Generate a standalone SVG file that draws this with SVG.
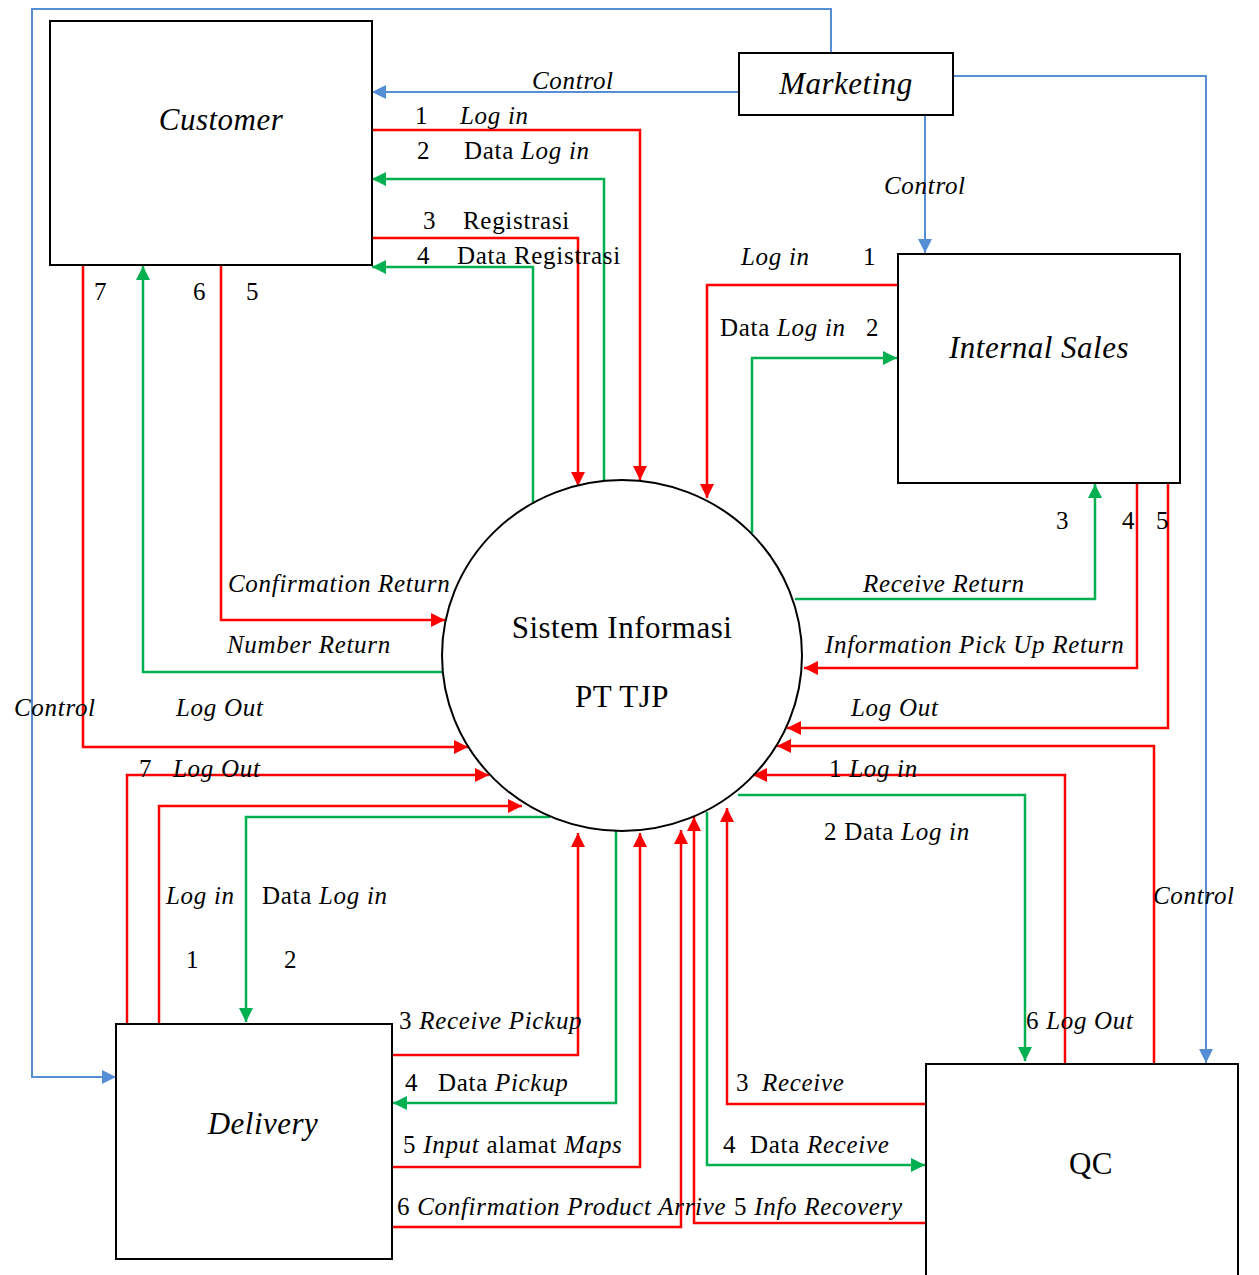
<svg xmlns="http://www.w3.org/2000/svg" width="1259" height="1275" viewBox="0 0 1259 1275">
  <style>
    .box { fill: #ffffff; stroke: #000000; stroke-width: 2; }
    .proc { fill: none; stroke: #000000; stroke-width: 2; }
    .red { fill: none; stroke: #ff0000; stroke-width: 2.5; marker-end: url(#arrRed); }
    .grn { fill: none; stroke: #00b050; stroke-width: 2.5; marker-end: url(#arrGrn); }
    .blu { fill: none; stroke: #558ed5; stroke-width: 2; marker-end: url(#arrBlu); }
    .title { font-family: "Liberation Serif", "Times New Roman", serif; font-size: 31px; letter-spacing: 0.5px; fill: #000; }
    .lbl { font-family: "Liberation Serif", "Times New Roman", serif; font-size: 25px; letter-spacing: 0.7px; fill: #000; }
    .it { font-style: italic; }
  </style>
  <defs>
    <marker id="arrRed" markerUnits="userSpaceOnUse" markerWidth="14" markerHeight="14" refX="14" refY="7" orient="auto">
      <path d="M0,0 L14,7 L0,14 z" fill="#ff0000"/>
    </marker>
    <marker id="arrGrn" markerUnits="userSpaceOnUse" markerWidth="14" markerHeight="14" refX="14" refY="7" orient="auto">
      <path d="M0,0 L14,7 L0,14 z" fill="#00b050"/>
    </marker>
    <marker id="arrBlu" markerUnits="userSpaceOnUse" markerWidth="14" markerHeight="14" refX="14" refY="7" orient="auto">
      <path d="M0,0 L14,7 L0,14 z" fill="#558ed5"/>
    </marker>
  </defs>

  <rect width="1259" height="1275" fill="#ffffff"/>

  <!-- data flows -->
  <g id="connectors">
    <!-- Marketing control lines -->
    <polyline class="blu" points="831,53 831,9 32,9 32,1077 116,1077"/>
    <polyline class="blu" points="739,92 372,92"/>
    <polyline class="blu" points="925,115 925,253"/>
    <polyline class="blu" points="953,76 1206,76 1206,1063"/>

    <!-- Customer -->
    <polyline class="red" points="372,130 640,130 640,480"/>
    <polyline class="grn" points="604,482 604,179 372,179"/>
    <polyline class="red" points="372,238 578,238 578,486"/>
    <polyline class="grn" points="533,504 533,267 372,267"/>
    <polyline class="red" points="221,265 221,620 445,620"/>
    <polyline class="grn" points="442,672 143,672 143,266"/>
    <polyline class="red" points="83,265 83,747 468,747"/>

    <!-- Internal Sales -->
    <polyline class="red" points="898,285 707,285 707,498"/>
    <polyline class="grn" points="752,533 752,358 897,358"/>
    <polyline class="grn" points="795,599 1095,599 1095,484"/>
    <polyline class="red" points="1137,483 1137,668 804,668"/>
    <polyline class="red" points="1168,483 1168,728 787,728"/>

    <!-- QC -->
    <polyline class="red" points="1154,1064 1154,746 777,746"/>
    <polyline class="red" points="1065,1064 1065,775 753,775"/>
    <polyline class="grn" points="738,795 1025,795 1025,1061"/>
    <polyline class="red" points="926,1104 727,1104 727,808"/>
    <polyline class="grn" points="707,812 707,1165 925,1165"/>
    <polyline class="red" points="926,1223 694,1223 694,817"/>

    <!-- Delivery -->
    <polyline class="red" points="127,1024 127,775 489,775"/>
    <polyline class="red" points="159,1024 159,806 522,806"/>
    <polyline class="grn" points="550,817 246,817 246,1022"/>
    <polyline class="red" points="392,1055 578,1055 578,833"/>
    <polyline class="grn" points="616,831 616,1103 393,1103"/>
    <polyline class="red" points="392,1167 640,1167 640,833"/>
    <polyline class="red" points="392,1227 681,1227 681,830"/>
  </g>

  <!-- flow labels -->
  <g id="flow-labels" class="lbl">
    <text x="532" y="89" class="it">Control</text>
    <text x="415" y="124">1</text><text x="460" y="124" class="it">Log in</text>
    <text x="417" y="159">2</text><text x="464" y="159">Data <tspan class="it">Log in</tspan></text>
    <text x="423" y="229">3</text><text x="463" y="229">Registrasi</text>
    <text x="417" y="264">4</text><text x="457" y="264">Data Registrasi</text>

    <text x="94" y="300">7</text>
    <text x="193" y="300">6</text>
    <text x="246" y="300">5</text>
    <text x="228" y="592" class="it">Confirmation Return</text>
    <text x="227" y="653" class="it">Number Return</text>
    <text x="14" y="716" class="it">Control</text>
    <text x="176" y="716" class="it">Log Out</text>
    <text x="139" y="777">7</text><text x="173" y="777" class="it">Log Out</text>

    <text x="884" y="194" class="it">Control</text>
    <text x="741" y="265" class="it">Log in</text><text x="863" y="265">1</text>
    <text x="720" y="336">Data <tspan class="it">Log in</tspan></text><text x="866" y="336">2</text>
    <text x="1056" y="529">3</text>
    <text x="1122" y="529">4</text>
    <text x="1156" y="529">5</text>
    <text x="863" y="592" class="it">Receive Return</text>
    <text x="825" y="653" class="it">Information Pick Up Return</text>
    <text x="851" y="716" class="it">Log Out</text>

    <text x="829" y="777">1 <tspan class="it">Log in</tspan></text>
    <text x="824" y="840">2 Data <tspan class="it">Log in</tspan></text>
    <text x="1153" y="904" class="it">Control</text>
    <text x="1026" y="1029">6 <tspan class="it">Log Out</tspan></text>
    <text x="736" y="1091">3</text><text x="762" y="1091" class="it">Receive</text>
    <text x="723" y="1153">4</text><text x="750" y="1153">Data <tspan class="it">Receive</tspan></text>
    <text x="734" y="1215">5 <tspan class="it">Info Recovery</tspan></text>

    <text x="166" y="904" class="it">Log in</text>
    <text x="262" y="904">Data <tspan class="it">Log in</tspan></text>
    <text x="186" y="968">1</text>
    <text x="284" y="968">2</text>
    <text x="399" y="1029">3 <tspan class="it">Receive Pickup</tspan></text>
    <text x="405" y="1091">4</text><text x="438" y="1091">Data <tspan class="it">Pickup</tspan></text>
    <text x="403" y="1153">5 <tspan class="it">Input</tspan> alamat <tspan class="it">Maps</tspan></text>
    <text x="397" y="1215">6 <tspan class="it">Confirmation Product Arrive</tspan></text>
  </g>

  <!-- external entities -->
  <g id="customer">
    <rect class="box" x="50" y="21" width="322" height="244"/>
    <text class="title it" x="221" y="130" text-anchor="middle">Customer</text>
  </g>
  <g id="marketing">
    <rect class="box" x="739" y="53" width="214" height="62"/>
    <text class="title it" x="846" y="94" text-anchor="middle">Marketing</text>
  </g>
  <g id="internal-sales">
    <rect class="box" x="898" y="254" width="282" height="229"/>
    <text class="title it" x="1039" y="358" text-anchor="middle">Internal Sales</text>
  </g>
  <g id="delivery">
    <rect class="box" x="116" y="1024" width="276" height="235"/>
    <text class="title it" x="263" y="1134" text-anchor="middle">Delivery</text>
  </g>
  <g id="qc">
    <rect class="box" x="926" y="1064" width="312" height="220"/>
    <text class="title" x="1091" y="1174" text-anchor="middle">QC</text>
  </g>

  <!-- central process -->
  <g id="sistem-informasi">
    <ellipse class="proc" cx="622" cy="655.5" rx="180" ry="175.5"/>
    <text class="title" x="622" y="638" text-anchor="middle">Sistem Informasi</text>
    <text class="title" x="622" y="707" text-anchor="middle">PT TJP</text>
  </g>
</svg>
